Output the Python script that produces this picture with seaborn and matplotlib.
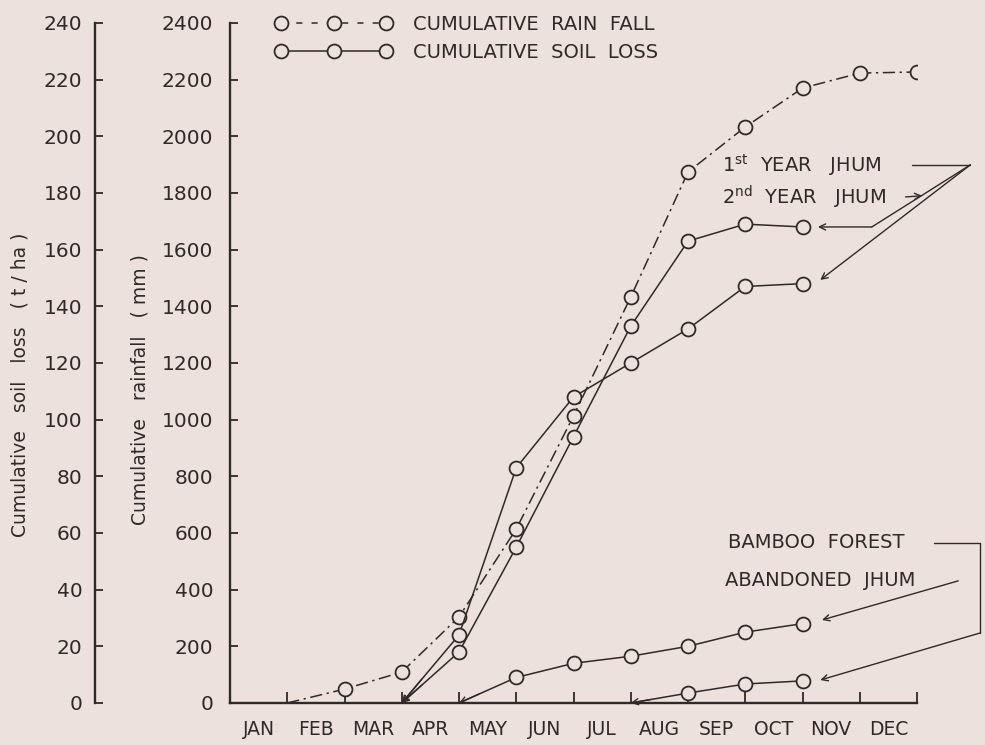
import numpy as np
import matplotlib
matplotlib.use("Agg")
import matplotlib.pyplot as plt
from matplotlib.lines import Line2D
import seaborn as sns

# month labels and month-end positions (x axis is months, ticks at month ends)
months = ["JAN", "FEB", "MAR", "APR", "MAY", "JUN",
          "JUL", "AUG", "SEP", "OCT", "NOV", "DEC"]
month_end = list(range(1, 13))

# cumulative rainfall (mm), read at each month end
rain_mm = [0, 49, 109, 304, 614, 1013, 1433, 1874, 2033, 2170, 2223, 2227]

# cumulative soil loss (t/ha)
jhum_months = [3, 4, 5, 6, 7, 8, 9, 10]
jhum_1st = [0, 24, 83, 108, 120, 132, 147, 148]
jhum_2nd = [0, 18, 55, 94, 133, 163, 169, 168]
abandoned_months = [4, 5, 6, 7, 8, 9, 10]
abandoned_jhum = [0, 9, 14, 16.5, 20, 25, 28]
bamboo_months = [7, 8, 9, 10]
bamboo_forest = [0, 3.5, 6.7, 7.8]

paper = "#ede1dd"
ink = "#2e2a29"

sns.set_style("ticks")
plt.rcParams["font.family"] = ["DejaVu Sans"]
plt.rcParams["mathtext.default"] = "regular"
plt.rcParams["text.color"] = ink
plt.rcParams["axes.edgecolor"] = ink
plt.rcParams["xtick.color"] = ink
plt.rcParams["ytick.color"] = ink

fig = plt.figure(figsize=(9.85, 7.45), dpi=100, facecolor=paper)
ax = fig.add_axes([0.2335, 0.0564, 0.6975, 0.9128])
ax.set_facecolor(paper)
soil_ax = ax.twinx()

marker_kw = dict(marker="o", markersize=10, markerfacecolor=paper,
                 markeredgecolor=ink, markeredgewidth=1.3)

# rainfall: dash-dot line, no marker at the JAN start point
sns.lineplot(x=month_end, y=rain_mm, ax=ax, color=ink, linewidth=1.1,
             linestyle=(0, (8, 3, 1.5, 3)), markevery=list(range(1, 12)),
             **marker_kw)

soil_series = [
    (jhum_months, jhum_1st),
    (jhum_months, jhum_2nd),
    (abandoned_months, abandoned_jhum),
    (bamboo_months, bamboo_forest),
]
for xs, ys in soil_series:
    sns.lineplot(x=xs, y=ys, ax=soil_ax, color=ink, linewidth=1.1,
                 markevery=list(range(1, len(xs))), **marker_kw)
    # small arrow head at the starting point of each soil loss curve
    x0, y0 = xs[0], ys[0]
    x1 = x0 + 0.35 * (xs[1] - x0)
    y1 = y0 + 0.35 * (ys[1] - y0)
    soil_ax.annotate("", xy=(x0, y0), xytext=(x1, y1),
                     arrowprops=dict(arrowstyle="->", color=ink, lw=1.0,
                                     shrinkA=0, shrinkB=0, mutation_scale=11))

# main (rainfall) axis
ax.set_xlim(0, 12)
ax.set_ylim(0, 2400)
ax.set_xticks(month_end)
ax.set_xticklabels([])
ax.set_xticks(np.arange(0.5, 12, 1), minor=True)
ax.set_xticklabels(months, minor=True)
ax.tick_params(axis="x", which="major", direction="in", length=8, width=1.3)
ax.tick_params(axis="x", which="minor", length=0, pad=12, labelsize=13.5)
ax.set_yticks(range(0, 2401, 200))
ax.tick_params(axis="y", direction="in", length=6, width=1.3, pad=12,
               labelsize=14.5)
ax.set_xlabel("")
ax.set_ylabel("")
for side in ["top", "right"]:
    ax.spines[side].set_visible(False)
for side in ["left", "bottom"]:
    ax.spines[side].set_linewidth(1.7)

# outer soil loss axis
soil_ax.set_ylim(0, 240)
soil_ax.set_yticks(range(0, 241, 20))
soil_ax.yaxis.set_ticks_position("left")
soil_ax.spines["left"].set_position(("axes", -0.1965))
soil_ax.spines["left"].set_visible(True)
soil_ax.spines["left"].set_linewidth(1.7)
for side in ["top", "right", "bottom"]:
    soil_ax.spines[side].set_visible(False)
soil_ax.tick_params(axis="y", direction="in", length=6, width=1.3, pad=9,
                    labelsize=14.5)
soil_ax.set_ylabel("")

fig.text(20 / 985, 1 - 385 / 745, "Cumulative   soil   loss   ( t / ha )",
         rotation=90, ha="center", va="center", fontsize=13.5)
fig.text(140 / 985, 1 - 390 / 745, "Cumulative   rainfall   ( mm )",
         rotation=90, ha="center", va="center", fontsize=13.5)

# legend
handles = [
    Line2D([], [], color=ink, linewidth=1.1, linestyle=(0, (4, 6)), **marker_kw),
    Line2D([], [], color=ink, linewidth=1.1, linestyle="-", **marker_kw),
]
ax.legend(handles, ["CUMULATIVE  RAIN  FALL", "CUMULATIVE  SOIL  LOSS"],
          loc="upper left", bbox_to_anchor=(0.066, 1.012), frameon=False,
          numpoints=3, handlelength=6.0, handletextpad=1.1, borderpad=0,
          borderaxespad=0, labelspacing=0.45, fontsize=14)

# curve labels with leader lines (rainfall-axis data coords)
lead = dict(color=ink, linewidth=1.0, clip_on=False)
arrow = dict(arrowstyle="->", color=ink, lw=1.0, shrinkA=0, shrinkB=0,
             mutation_scale=11)

ax.text(8.59, 1899, r"1$^{st}$  YEAR   JHUM", ha="left", va="center", fontsize=14)
ax.text(8.59, 1786, r"2$^{nd}$  YEAR   JHUM", ha="left", va="center", fontsize=14)
ax.plot([11.91, 12.93], [1899, 1899], **lead)
ax.annotate("", xy=(10.31, 1493), xytext=(12.93, 1899), arrowprops=arrow,
            annotation_clip=False)
ax.plot([12.93, 11.21], [1899, 1680], **lead)
ax.annotate("", xy=(10.27, 1680), xytext=(11.21, 1680), arrowprops=arrow,
            annotation_clip=False)
ax.annotate("", xy=(12.09, 1790), xytext=(11.80, 1786), arrowprops=arrow,
            annotation_clip=False)

ax.text(8.70, 565, "BAMBOO  FOREST", ha="left", va="center", fontsize=14)
ax.text(8.65, 434, "ABANDONED  JHUM", ha="left", va="center", fontsize=14)
ax.plot([12.30, 13.10, 13.10], [565, 565, 247], **lead)
ax.annotate("", xy=(10.31, 81), xytext=(13.10, 247), arrowprops=arrow,
            annotation_clip=False)
ax.annotate("", xy=(10.34, 293), xytext=(12.72, 431), arrowprops=arrow,
            annotation_clip=False)

fig.savefig("out.png", dpi=100, facecolor=paper)
